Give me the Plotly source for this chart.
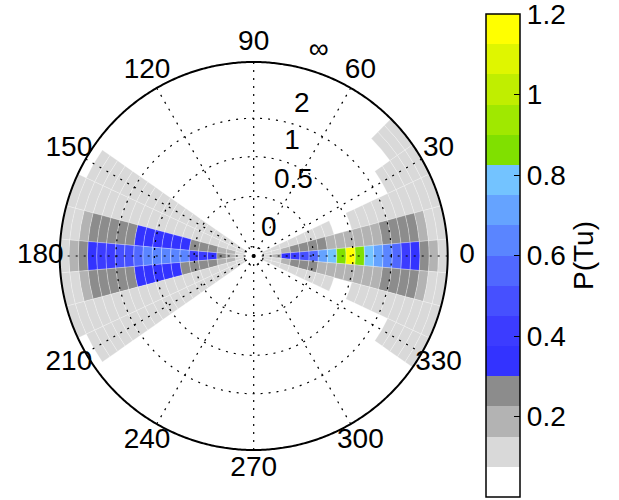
import numpy as np
import plotly.graph_objects as go

# ---------------- data ----------------
N_RAD = 21                      # radial bins (uniform in transformed radius 0..1)
ANG_WIDTH = 10                  # angular bin width, degrees

theta_bins = [40, 30, 20, 10, 0, -10, -20, -30, 150, 160, 170, 180, 190, 200, 210]

p_040 = [0, 0, 0, 0, 0, 0, 0, 0, 0, 0, 0, 0, 0, 0, 0, 0, 0, 0, .11, .11, .11]
p_030 = [0, 0, 0, 0, 0, 0, 0, 0, 0, 0, 0, 0, 0, 0, 0, 0, .11, .11, .11, .11, .11]
p_020 = [0, .11, .11, .11, .11, .11, .11, .11, .11, 0, 0, .11, .11, .11, .11, .11, .11, .11, .11, .11, .11]
p_010 = [0, .11, .11, .19, .26, .26, .26, .26, .19, .19, .19, .19, .19, .19, .26, .26, .26, .26, .19, .11, .11]
p_000 = [0, .11, .19, .34, .41, .49, .56, .71, .79, .86, 1.16, .86, .79, .71, .64, .56, .41, .34, .26, .19, .11]
p_350 = [0, .11, .11, .19, .26, .26, .26, .19, .19, .19, .19, .19, .19, .19, .26, .26, .26, .26, .19, .11, .11]
p_340 = [0, .11, .11, .11, .11, .11, .11, .11, .11, 0, 0, .11, .11, .11, .11, .11, .11, .11, .11, .11, .11]
p_330 = [0, 0, 0, 0, 0, 0, 0, 0, 0, 0, 0, 0, 0, 0, 0, 0, .11, .11, .11, .11, .11]
p_150 = [0, .11, .11, .11, .11, .11, .11, .11, .11, .11, .11, .11, .11, .11, .11, .11, .11, .11, .11, .11, 0]
p_160 = [0, .11, .11, .11, .11, .11, .11, .11, .11, .11, .11, .11, .11, .11, .11, .11, .11, .11, .11, .11, .11]
p_170 = [0, .11, .19, .19, .26, .26, .26, .34, .34, .34, .34, .34, .34, .26, .26, .26, .26, .26, .19, .11, .11]
p_180 = [0, .11, .19, .26, .34, .41, .41, .64, .64, .64, .64, .64, .56, .49, .49, .41, .41, .34, .26, .19, .11]
p_190 = [0, .11, .19, .19, .26, .26, .26, .26, .34, .34, .34, .34, .34, .26, .26, .26, .26, .26, .19, .11, .11]
p_200 = [0, .11, .11, .11, .11, .11, .11, .11, .11, .11, .11, .11, .11, .11, .11, .11, .11, .11, .11, .11, .11]
p_210 = [0, .11, .11, .11, .11, .11, .11, .11, .11, .11, .11, .11, .11, .11, .11, .11, .11, .11, .11, .11, 0]

p_rows = [p_040, p_030, p_020, p_010, p_000, p_350, p_340, p_330,
          p_150, p_160, p_170, p_180, p_190, p_200, p_210]

# radial ticks (transformed radius) and their labels
r_tick_vals = [0.049, 0.307, 0.512, 0.71, 1.0]
r_tick_text = ["0", "0.5", "1", "2", "\u221e"]

# angular ticks
ang_tick_vals = list(range(0, 360, 30))
ang_tick_text = [str(a) for a in ang_tick_vals]

# colour levels (16 levels, 0 .. 1.2)
CMIN, CMAX = 0.0, 1.2
level_colors = ["#ffffff", "#d9d9d9", "#b3b3b3", "#8c8c8c",
                "#3333ff", "#3c3cff", "#4650ff", "#5068ff", "#5a85ff", "#65a3ff", "#73c3ff",
                "#80e000", "#a0e800", "#c0ee00", "#dff600", "#ffff00"]
cb_tick_vals = [0.2, 0.4, 0.6, 0.8, 1.0, 1.1999]
cb_tick_text = ["0.2", "0.4", "0.6", "0.8", "1", "1.2"]

FONT = "Liberation Sans, Arial, Helvetica, sans-serif"
FS = 28
R_MAX = 1.16          # radial range shown (labels sit outside the r=1 rim)

# ---------------- build cells ----------------
cell_theta, cell_base, cell_r, cell_val = [], [], [], []
for ang, row in zip(theta_bins, p_rows):
    for k, v in enumerate(row):
        if v > 0:
            cell_theta.append(ang)
            cell_base.append(k / N_RAD)
            cell_r.append(1.0 / N_RAD)
            cell_val.append(v)

nlev = len(level_colors)
colorscale = []
for i, c in enumerate(level_colors):
    colorscale.append([i / nlev, c])
    colorscale.append([(i + 1) / nlev, c])

fig = go.Figure()

fig.add_trace(go.Barpolar(
    theta=cell_theta, base=cell_base, r=cell_r,
    width=[ANG_WIDTH] * len(cell_theta),
    marker=dict(
        color=cell_val, colorscale=colorscale, cmin=CMIN, cmax=CMAX,
        line=dict(color="rgba(255,255,255,0.45)", width=0.6),
        colorbar=dict(
            x=486 / 619, xanchor="left", y=0.489, yanchor="middle",
            thickness=34, thicknessmode="pixels",
            len=483, lenmode="pixels", xpad=0, ypad=0,
            outlinewidth=1.5, outlinecolor="black",
            tickvals=cb_tick_vals, ticktext=cb_tick_text,
            ticks="inside", ticklen=6, tickcolor="black",
            ticklabeloverflow="allow",
            tickfont=dict(size=FS, color="black", family=FONT),
            title=dict(text="P(Tu)", side="right", font=dict(size=FS, color="black", family=FONT)),
        ),
    ),
    hoverinfo="skip", showlegend=False,
))

# dotted grid: circles
theta_circ = np.linspace(0, 360, 721)
circ_r, circ_t = [], []
for rv in r_tick_vals[:-1]:
    circ_r += [rv] * len(theta_circ) + [None]
    circ_t += list(theta_circ) + [None]
fig.add_trace(go.Scatterpolar(
    r=circ_r, theta=circ_t, mode="lines",
    line=dict(color="black", width=1.2, dash="2px,6px"),
    hoverinfo="skip", showlegend=False,
))
# dotted grid: spokes
sp_r, sp_t = [], []
for a in ang_tick_vals:
    sp_r += [0, 1, None]
    sp_t += [a, a, None]
fig.add_trace(go.Scatterpolar(
    r=sp_r, theta=sp_t, mode="lines",
    line=dict(color="black", width=1.2, dash="2px,6px"),
    hoverinfo="skip", showlegend=False,
))
# solid outer rim at r = 1 (infinity)
fig.add_trace(go.Scatterpolar(
    r=[r_tick_vals[-1]] * len(theta_circ), theta=theta_circ, mode="lines",
    line=dict(color="black", width=2),
    hoverinfo="skip", showlegend=False,
))

# angular labels (MATLAB style at 1.1 * rmax)
fig.add_trace(go.Scatterpolar(
    r=[1.1] * len(ang_tick_vals), theta=ang_tick_vals, mode="text",
    text=ang_tick_text, textposition="middle center",
    textfont=dict(size=FS, color="black", family=FONT),
    cliponaxis=False, hoverinfo="skip", showlegend=False,
))
# radial labels
fig.add_trace(go.Scatterpolar(
    r=[v + 0.095 for v in r_tick_vals], theta=[75] * len(r_tick_vals), mode="text",
    text=r_tick_text, textposition="middle right",
    textfont=dict(size=FS, color="black", family=FONT),
    cliponaxis=False, hoverinfo="skip", showlegend=False,
))

cx, cy, R = 253.7, 500 - 256.0, 194.0 * R_MAX
fig.update_layout(
    width=619, height=500,
    margin=dict(l=0, r=0, t=0, b=0),
    paper_bgcolor="white",
    font=dict(family=FONT, color="black", size=FS),
    showlegend=False,
    polar=dict(
        domain=dict(x=[(cx - R) / 619, (cx + R) / 619], y=[(cy - R) / 500, (cy + R) / 500]),
        bgcolor="rgba(0,0,0,0)",
        hole=0,
        radialaxis=dict(range=[0, R_MAX], showgrid=False, showline=False,
                        showticklabels=False, ticks=""),
        angularaxis=dict(rotation=0, direction="counterclockwise",
                         showgrid=False, showticklabels=False, ticks="",
                         showline=False),
    ),
)

fig.write_html("out.html")
